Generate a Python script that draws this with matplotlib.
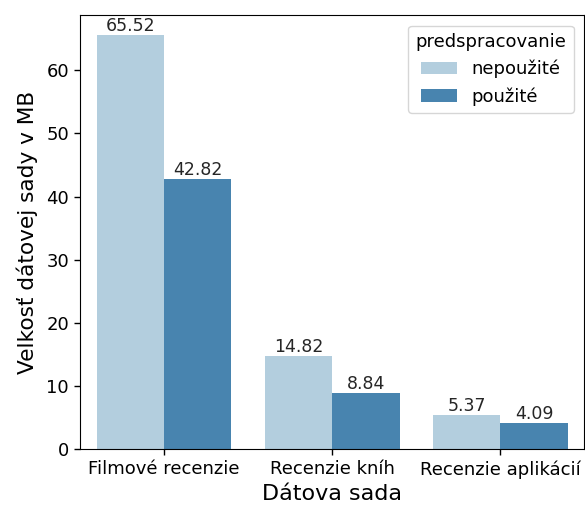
import numpy as np
import matplotlib
matplotlib.use("Agg")
import matplotlib.pyplot as plt
import seaborn as sns

# data
datasets = ["Filmové recenzie", "Recenzie kníh", "Recenzie aplikácií"]
groups = ["nepoužité", "použité"]
size_raw = [65.52, 14.82, 5.37]
size_prep = [42.82, 8.84, 4.09]

# seaborn-style Blues palette, desaturated like barplot does
colors = [sns.desaturate(c, 0.75) for c in sns.color_palette("Blues", 2)]

fig = plt.figure(figsize=(5.85, 5.07), dpi=100)
ax = fig.add_axes([0.137, 0.114, 0.862, 0.857])

x = np.arange(len(datasets))
w = 0.4
for i, (vals, lab) in enumerate(zip([size_raw, size_prep], groups)):
    bars = ax.bar(x + (i - 0.5) * w, vals, width=w, color=colors[i], label=lab)
    ax.bar_label(bars, labels=[f"{v:.2f}" for v in vals], fontsize=12.5, color="#262626")

ax.set_xticks(x)
ax.set_xticklabels(datasets, fontsize=13)
ax.tick_params(axis="y", labelsize=13)
ax.tick_params(length=4.5, width=1)
ax.set_xlim(-0.5, 2.5)
ax.set_xlabel("Dátova sada", fontsize=16)
ax.set_ylabel("Velkosť dátovej sady v MB", fontsize=15.6, labelpad=6)
leg = ax.legend(title="predspracovanie", fontsize=13, title_fontsize=13,
                loc="upper right", borderaxespad=0.6)

fig.savefig("out.png", dpi=100)
